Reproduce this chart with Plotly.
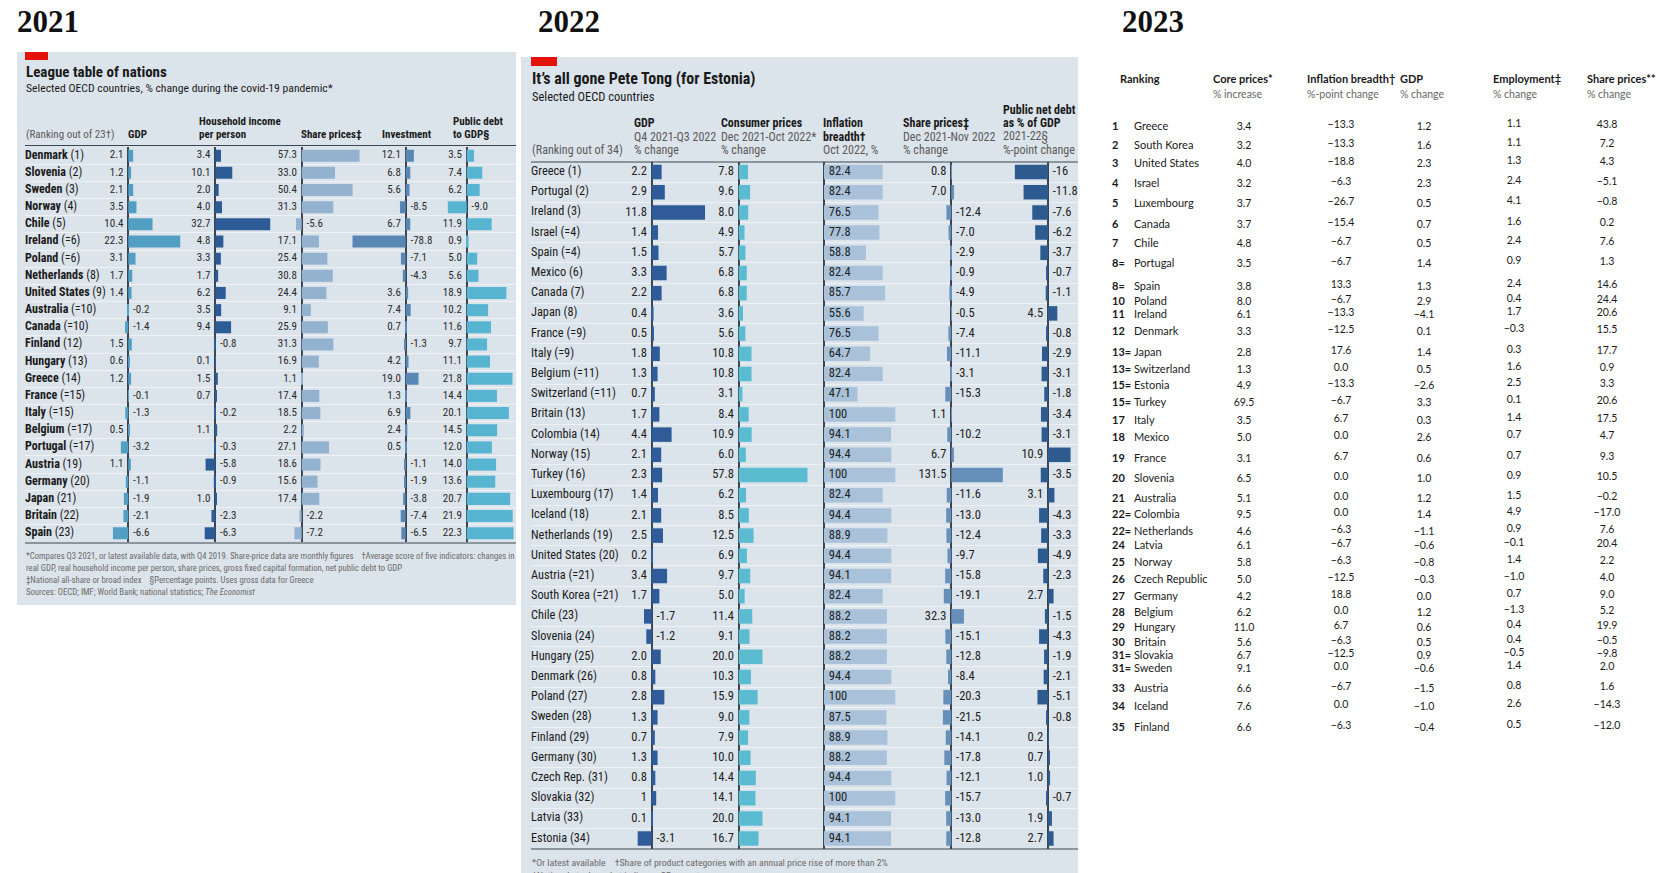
import plotly.graph_objects as go

W, H = 1665, 873

# ======================= DATA =======================
# ---- 2021 ----
countries_2021 = ["Denmark", "Slovenia", "Sweden", "Norway", "Chile", "Ireland", "Poland",
                  "Netherlands", "United States", "Australia", "Canada", "Finland", "Hungary",
                  "Greece", "France", "Italy", "Belgium", "Portugal", "Austria", "Germany",
                  "Japan", "Britain", "Spain"]
ranks_2021 = ["1", "2", "3", "4", "5", "=6", "=6", "8", "9", "=10", "=10", "12", "13", "14",
              "=15", "=15", "=17", "=17", "19", "20", "21", "22", "23"]
gdp_2021 = [2.1, 1.2, 2.1, 3.5, 10.4, 22.3, 3.1, 1.7, 1.4, -0.2, -1.4, 1.5, 0.6, 1.2, -0.1,
            -1.3, 0.5, -3.2, 1.1, -1.1, -1.9, -2.1, -6.6]
household_income_2021 = [3.4, 10.1, 2.0, 4.0, 32.7, 4.8, 3.3, 1.7, 6.2, 3.5, 9.4, -0.8, 0.1,
                         1.5, 0.7, -0.2, 1.1, -0.3, -5.8, -0.9, 1.0, -2.3, -6.3]
share_prices_2021 = [57.3, 33.0, 50.4, 31.3, -5.6, 17.1, 25.4, 30.8, 24.4, 9.1, 25.9, 31.3,
                     16.9, 1.1, 17.4, 18.5, 2.2, 27.1, 18.6, 15.6, 17.4, -2.2, -7.2]
investment_2021 = [12.1, 6.8, 5.6, -8.5, 6.7, -78.8, -7.1, -4.3, 3.6, 7.4, 0.7, -1.3, 4.2,
                   19.0, 1.3, 6.9, 2.4, 0.5, -1.1, -1.9, -3.8, -7.4, -6.5]
public_debt_2021 = [3.5, 7.4, 6.2, -9.0, 11.9, 0.9, 5.0, 5.6, 18.9, 10.2, 11.6, 9.7, 11.1,
                    21.8, 14.4, 20.1, 14.5, 12.0, 14.0, 13.6, 20.7, 21.9, 22.3]

# ---- 2022 ----
countries_2022 = ["Greece", "Portugal", "Ireland", "Israel", "Spain", "Mexico", "Canada", "Japan",
                  "France", "Italy", "Belgium", "Switzerland", "Britain", "Colombia", "Norway",
                  "Turkey", "Luxembourg", "Iceland", "Netherlands", "United States", "Austria",
                  "South Korea", "Chile", "Slovenia", "Hungary", "Denmark", "Poland", "Sweden",
                  "Finland", "Germany", "Czech Rep.", "Slovakia", "Latvia", "Estonia"]
ranks_2022 = ["1", "2", "3", "=4", "=4", "6", "7", "8", "=9", "=9", "=11", "=11", "13", "14",
              "15", "16", "17", "18", "19", "20", "=21", "=21", "23", "24", "25", "26", "27",
              "28", "29", "30", "31", "32", "33", "34"]
gdp_2022 = [2.2, 2.9, 11.8, 1.4, 1.5, 3.3, 2.2, 0.4, 0.5, 1.8, 1.3, 0.7, 1.7, 4.4, 2.1, 2.3,
            1.4, 2.1, 2.5, 0.2, 3.4, 1.7, -1.7, -1.2, 2.0, 0.8, 2.8, 1.3, 0.7, 1.3, 0.8, 1,
            0.1, -3.1]
consumer_prices_2022 = [7.8, 9.6, 8.0, 4.9, 5.7, 6.8, 6.8, 3.6, 5.6, 10.8, 10.8, 3.1, 8.4, 10.9,
                        6.0, 57.8, 6.2, 8.5, 12.5, 6.9, 9.7, 5.0, 11.4, 9.1, 20.0, 10.3, 15.9,
                        9.0, 7.9, 10.0, 14.4, 14.1, 20.0, 16.7]
inflation_breadth_2022 = [82.4, 82.4, 76.5, 77.8, 58.8, 82.4, 85.7, 55.6, 76.5, 64.7, 82.4, 47.1,
                          100, 94.1, 94.4, 100, 82.4, 94.4, 88.9, 94.4, 94.1, 82.4, 88.2, 88.2,
                          88.2, 94.4, 100, 87.5, 88.9, 88.2, 94.4, 100, 94.1, 94.1]
share_prices_2022 = [0.8, 7.0, -12.4, -7.0, -2.9, -0.9, -4.9, -0.5, -7.4, -11.1, -3.1, -15.3,
                     1.1, -10.2, 6.7, 131.5, -11.6, -13.0, -12.4, -9.7, -15.8, -19.1, 32.3,
                     -15.1, -12.8, -8.4, -20.3, -21.5, -14.1, -17.8, -12.1, -15.7, -13.0, -12.8]
public_net_debt_2022 = [-16, -11.8, -7.6, -6.2, -3.7, -0.7, -1.1, 4.5, -0.8, -2.9, -3.1, -1.8,
                        -3.4, -3.1, 10.9, -3.5, 3.1, -4.3, -3.3, -4.9, -2.3, 2.7, -1.5, -4.3,
                        -1.9, -2.1, -5.1, -0.8, 0.2, 0.7, 1.0, -0.7, 1.9, 2.7]

# ---- 2023 ----
countries_2023 = ["Greece", "South Korea", "United States", "Israel", "Luxembourg", "Canada",
                  "Chile", "Portugal", "Spain", "Poland", "Ireland", "Denmark", "Japan",
                  "Switzerland", "Estonia", "Turkey", "Italy", "Mexico", "France", "Slovenia",
                  "Australia", "Colombia", "Netherlands", "Latvia", "Norway", "Czech Republic",
                  "Germany", "Belgium", "Hungary", "Britain", "Slovakia", "Sweden", "Austria",
                  "Iceland", "Finland"]
ranks_2023 = ["1", "2", "3", "4", "5", "6", "7", "8=", "8=", "10", "11", "12", "13=", "13=",
              "15=", "15=", "17", "18", "19", "20", "21", "22=", "22=", "24", "25", "26", "27",
              "28", "29", "30", "31=", "31=", "33", "34", "35"]
core_prices_2023 = [3.4, 3.2, 4.0, 3.2, 3.7, 3.7, 4.8, 3.5, 3.8, 8.0, 6.1, 3.3, 2.8, 1.3, 4.9,
                    69.5, 3.5, 5.0, 3.1, 6.5, 5.1, 9.5, 4.6, 6.1, 5.8, 5.0, 4.2, 6.2, 11.0, 5.6,
                    6.7, 9.1, 6.6, 7.6, 6.6]
inflation_breadth_2023 = [-13.3, -13.3, -18.8, -6.3, -26.7, -15.4, -6.7, -6.7, 13.3, -6.7,
                          -13.3, -12.5, 17.6, 0.0, -13.3, -6.7, 6.7, 0.0, 6.7, 0.0, 0.0, 0.0,
                          -6.3, -6.7, -6.3, -12.5, 18.8, 0.0, 6.7, -6.3, -12.5, 0.0, -6.7, 0.0,
                          -6.3]
gdp_2023 = [1.2, 1.6, 2.3, 2.3, 0.5, 0.7, 0.5, 1.4, 1.3, 2.9, -4.1, 0.1, 1.4, 0.5, -2.6, 3.3,
            0.3, 2.6, 0.6, 1.0, 1.2, 1.4, -1.1, -0.6, -0.8, -0.3, 0.0, 1.2, 0.6, 0.5, 0.9,
            -0.6, -1.5, -1.0, -0.4]
employment_2023 = [1.1, 1.1, 1.3, 2.4, 4.1, 1.6, 2.4, 0.9, 2.4, 0.4, 1.7, -0.3, 0.3, 1.6, 2.5,
                   0.1, 1.4, 0.7, 0.7, 0.9, 1.5, 4.9, 0.9, -0.1, 1.4, -1.0, 0.7, -1.3, 0.4, 0.4,
                   -0.5, 1.4, 0.8, 2.6, 0.5]
share_prices_2023 = [43.8, 7.2, 4.3, -5.1, -0.8, 0.2, 7.6, 1.3, 14.6, 24.4, 20.6, 15.5, 17.7,
                     0.9, 3.3, 20.6, 17.5, 4.7, 9.3, 10.5, -0.2, -17.0, 7.6, 20.4, 2.2, 4.0,
                     9.0, 5.2, 19.9, -0.5, -9.8, 2.0, 1.6, -14.3, -12.0]

# ======================= LAYOUT GEOMETRY / STYLE =======================
NARROW = "Liberation Sans Narrow, Arial Narrow, Roboto Condensed, Roboto, sans-serif"
TABLE_FONT = "Lato, Roboto, sans-serif"
SERIF = "Liberation Serif, DejaVu Serif, serif"
PANEL_BG = "#dce4eb"
SEP = "#eef2f6"
AXIS_DARK = "#3b4652"
RED = "#e3120b"
TXT = "#1a1a1a"
GREY = "#5a5a5a"

# pixel row positions of the (hand-set) 2023 table
row_y_2023 = [127, 146, 164, 184, 204, 225, 244, 264, 287, 302, 315, 332, 353, 370, 386, 403,
              421, 438, 459, 479, 499, 515, 532, 546, 563, 580, 597, 613, 628, 643, 656, 669,
              689, 707, 728]


def fx(p):
    return p / W


def fy(p):
    return 1 - p / H


layout = dict(width=W, height=H, autosize=False, margin=dict(l=0, r=0, t=0, b=0),
              paper_bgcolor="white", plot_bgcolor="rgba(0,0,0,0)", showlegend=False)
traces, shapes, annotations = [], [], []


def ann(x, y, text, size, color=TXT, family=NARROW, xanchor="left", yanchor="middle"):
    annotations.append(dict(x=fx(x), y=fy(y), xref="paper", yref="paper", text=text,
                            showarrow=False, xanchor=xanchor, yanchor=yanchor, align="left",
                            font=dict(size=size, color=color, family=family), borderpad=0))


def rect(x0, y0, x1, y1, color, layer="below"):
    shapes.append(dict(type="rect", xref="paper", yref="paper", x0=fx(x0), x1=fx(x1),
                       y0=fy(y1), y1=fy(y0), fillcolor=color, line=dict(width=0), layer=layer))


def hline(x0, x1, y, color=AXIS_DARK, width=1.2):
    shapes.append(dict(type="line", xref="paper", yref="paper", x0=fx(x0), x1=fx(x1),
                       y0=fy(y), y1=fy(y), line=dict(color=color, width=width)))


def panel_yaxis(name, cats, top_px, row_px, xanchor):
    n = len(cats)
    bottom = top_px + n * row_px
    layout[name] = dict(domain=[fy(bottom), fy(top_px)], type="category",
                        categoryorder="array", categoryarray=cats, range=[n - 0.5, -0.5],
                        tickson="boundaries", showgrid=True, gridcolor=SEP, gridwidth=1,
                        showticklabels=False, ticks="", showline=False, zeroline=False,
                        anchor=xanchor, fixedrange=True)


def label_xaxis(name, p0, p1, yanchor):
    layout[name] = dict(domain=[fx(p0), fx(p1)], range=[0, 1], anchor=yanchor, showgrid=False,
                        zeroline=False, showticklabels=False, ticks="", showline=False,
                        fixedrange=True)


def col_xaxis(name, zero_px, scale, p0, p1, yanchor):
    layout[name] = dict(domain=[fx(p0), fx(p1)],
                        range=[(p0 - zero_px) / scale, (p1 - zero_px) / scale],
                        anchor=yanchor, showgrid=False, showticklabels=False, ticks="",
                        showline=False, zeroline=True, zerolinecolor=AXIS_DARK,
                        zerolinewidth=1.5, fixedrange=True)


def bars(values, cats, xa, ya, color, width):
    traces.append(go.Bar(x=values, y=cats, orientation="h", xaxis=xa, yaxis=ya, width=width,
                         marker=dict(color=color, line=dict(width=0)), hoverinfo="skip"))


def value_labels(values, cats, xa, ya, size, color, inside=False):
    pos = ["middle right" if (inside or v < 0) else "middle left" for v in values]
    traces.append(go.Scatter(x=[0] * len(values), y=cats, mode="markers+text",
                             marker=dict(size=6, color="rgba(0,0,0,0)"),
                             text=[str(v) for v in values], textposition=pos,
                             textfont=dict(size=size, color=color, family=NARROW),
                             cliponaxis=False, hoverinfo="skip", xaxis=xa, yaxis=ya))


def row_labels(texts, cats, xa, ya, size):
    traces.append(go.Scatter(x=[0] * len(cats), y=cats, mode="text", text=texts,
                             textposition="middle right",
                             textfont=dict(size=size, color=TXT, family=NARROW),
                             cliponaxis=False, hoverinfo="skip", xaxis=xa, yaxis=ya))


# ======================= 2021 PANEL =======================
ann(16, 21, "<b>2021</b>", 31, color="#111", family=SERIF)
rect(17, 52, 516, 605, PANEL_BG)
rect(25, 52, 48, 60, RED, layer="above")
ann(25, 72, "<b>League table of nations</b>", 15)
ann(25, 88, "Selected OECD countries, % change during the covid-19 pandemic*", 11.7)
ann(25, 134, "(Ranking out of 23†)", 11, color=GREY)
for x, y, t in [(127, 134, "GDP"), (198, 122, "Household income"), (198, 134, "per person"),
                (300, 134, "Share prices‡"), (381, 134, "Investment"), (452, 122, "Public debt"),
                (452, 134, "to GDP§")]:
    ann(x, y, "<b>" + t + "</b>", 11)

panel_yaxis("yaxis", countries_2021, 147.1, 17.16, "x")
label_xaxis("xaxis", 25, 516, "y")
row_labels([f"<b>{c}</b> ({r})" for c, r in zip(countries_2021, ranks_2021)],
           countries_2021, "x", "y", 12)

cols_2021 = [
    ("xaxis2", "x2", gdp_2021, "#529fc3", 128.3, 2.33, 100, 186),
    ("xaxis3", "x3", household_income_2021, "#2d5b96", 215.3, 1.68, 186, 292),
    ("xaxis4", "x4", share_prices_2021, "#92b2cf", 301.7, 1.01, 292, 372),
    ("xaxis5", "x5", investment_2021, "#5987b3", 405.7, 0.675, 345, 440),
    ("xaxis6", "x6", public_debt_2021, "#58b5d2", 466.7, 2.1, 440, 516),
]
for name, ref, vals, color, zero, scale, p0, p1 in cols_2021:
    col_xaxis(name, zero, scale, p0, p1, "y")
    bars(vals, countries_2021, ref, "y", color, 0.7)
    value_labels(vals, countries_2021, ref, "y", 11, "#2a2a2a")

hline(25, 516, 145.5)
hline(25, 516, 543)
foot21 = [
    "*Compares Q3 2021, or latest available data, with Q4 2019. Share-price data are monthly figures"
    "    †Average score of five indicators: changes in",
    "real GDP, real household income per person, share prices, gross fixed capital formation, "
    "net public debt to GDP",
    "‡National all-share or broad index    §Percentage points. Uses gross data for Greece",
    "Sources: OECD; IMF; World Bank; national statistics; <i>The Economist</i>",
]
for i, t in enumerate(foot21):
    ann(25, 556 + i * 12, t, 8.7, color="#6a6a6a")

# ======================= 2022 PANEL =======================
ann(537, 21, "<b>2022</b>", 31, color="#111", family=SERIF)
rect(521, 57, 1078, 873, PANEL_BG)
rect(531, 57, 557, 66, RED, layer="above")
ann(531, 78, "<b>It’s all gone Pete Tong (for Estonia)</b>", 16)
ann(531, 96, "Selected OECD countries", 12.5)
ann(531, 150, "(Ranking out of 34)", 12, color=GREY)
hdr22 = [
    (633, ["<b>GDP</b>", "Q4 2021-Q3 2022", "% change"]),
    (720, ["<b>Consumer prices</b>", "Dec 2021-Oct 2022*", "% change"]),
    (822, ["<b>Inflation</b>", "<b>breadth†</b>", "Oct 2022, %"]),
    (902, ["<b>Share prices‡</b>", "Dec 2021-Nov 2022", "% change"]),
]
for x, lines in hdr22:
    for j, t in enumerate(lines):
        ann(x, 123 + j * 13.6, t, 12, color=TXT if t.startswith("<b>") else GREY)
for j, t in enumerate(["<b>Public net debt</b>", "<b>as % of GDP</b>", "2021-22§", "%-point change"]):
    ann(1002, 109.5 + j * 13.6, t, 12, color=TXT if t.startswith("<b>") else GREY)

panel_yaxis("yaxis2", countries_2022, 161.9, 20.2, "x7")
label_xaxis("xaxis7", 531, 1078, "y2")
row_labels([f"{c} ({r})" for c, r in zip(countries_2022, ranks_2022)],
           countries_2022, "x7", "y2", 12.3)

cols_2022 = [
    ("xaxis8", "x8", gdp_2022, "#2f5c98", 651.7, 4.52, 620, 712, False),
    ("xaxis9", "x9", consumer_prices_2022, "#5bbcd1", 738.7, 1.19, 712, 815, False),
    ("xaxis10", "x10", inflation_breadth_2022, "#a9c2d9", 824.0, 0.713, 815, 905, True),
    ("xaxis11", "x11", share_prices_2022, "#6690ba", 951.3, 0.392, 905, 1010, False),
    ("xaxis12", "x12", public_net_debt_2022, "#2d5a8f", 1048.0, 2.07, 1010, 1078, False),
]
for name, ref, vals, color, zero, scale, p0, p1, inside in cols_2022:
    col_xaxis(name, zero, scale, p0, p1, "y2")
    bars(vals, countries_2022, ref, "y2", color, 0.72)
    value_labels(vals, countries_2022, ref, "y2", 12.5, "#222222", inside=inside)

hline(531, 1078, 162)
hline(531, 1078, 849)
ann(531, 862, "*Or latest available    †Share of product categories with an annual price rise "
              "of more than 2%", 9.8, color="#6a6a6a")
ann(531, 875, "‡National stock market indices    §Forecast", 9.8, color="#6a6a6a")

# ======================= 2023 TABLE =======================
ann(1121, 21, "<b>2023</b>", 31, color="#111", family=SERIF)
layout["xaxis13"] = dict(domain=[0, 1], range=[0, W], anchor="y3", visible=False, fixedrange=True)
layout["yaxis3"] = dict(domain=[0, 1], range=[H, 0], anchor="x13", visible=False, fixedrange=True)

hdr23 = [(1119, "Ranking", ""), (1212, "Core prices*", "% increase"),
         (1306, "Inflation breadth†", "%-point change"), (1399, "GDP", "% change"),
         (1492, "Employment‡", "% change"), (1586, "Share prices**", "% change")]
for x, t1, t2 in hdr23:
    ann(x, 78, "<b>" + t1 + "</b>", 11, family=TABLE_FONT)
    if t2:
        ann(x, 94, t2, 10.5, color="#666666", family=TABLE_FONT)


def fmt23(v):
    return f"{v:.1f}".replace("-", "\u2212")


traces.append(go.Scatter(x=[1112] * len(ranks_2023), y=row_y_2023, mode="text",
                         text=[f"<b>{r}</b>" for r in ranks_2023], textposition="middle right",
                         textfont=dict(size=11, color=TXT, family=TABLE_FONT),
                         cliponaxis=False, hoverinfo="skip", xaxis="x13", yaxis="y3"))
traces.append(go.Scatter(x=[1134] * len(countries_2023), y=row_y_2023, mode="text",
                         text=countries_2023, textposition="middle right",
                         textfont=dict(size=11, color=TXT, family=TABLE_FONT),
                         cliponaxis=False, hoverinfo="skip", xaxis="x13", yaxis="y3"))
cols_2023 = [(core_prices_2023, 1244, 0), (inflation_breadth_2023, 1341, -2),
             (gdp_2023, 1424, 0), (employment_2023, 1514, -3), (share_prices_2023, 1607, -2)]
for vals, cx, dy in cols_2023:
    traces.append(go.Scatter(x=[cx] * len(vals), y=[y + dy for y in row_y_2023], mode="text",
                             text=[fmt23(v) for v in vals], textposition="middle center",
                             textfont=dict(size=10.5, color=TXT, family=TABLE_FONT),
                             cliponaxis=False, hoverinfo="skip", xaxis="x13", yaxis="y3"))

layout["shapes"] = shapes
layout["annotations"] = annotations
fig = go.Figure(data=traces, layout=layout)
fig.write_html("out.html", config={"displayModeBar": False},
               post_script="document.body.style.margin='0';document.body.style.padding='0';")
